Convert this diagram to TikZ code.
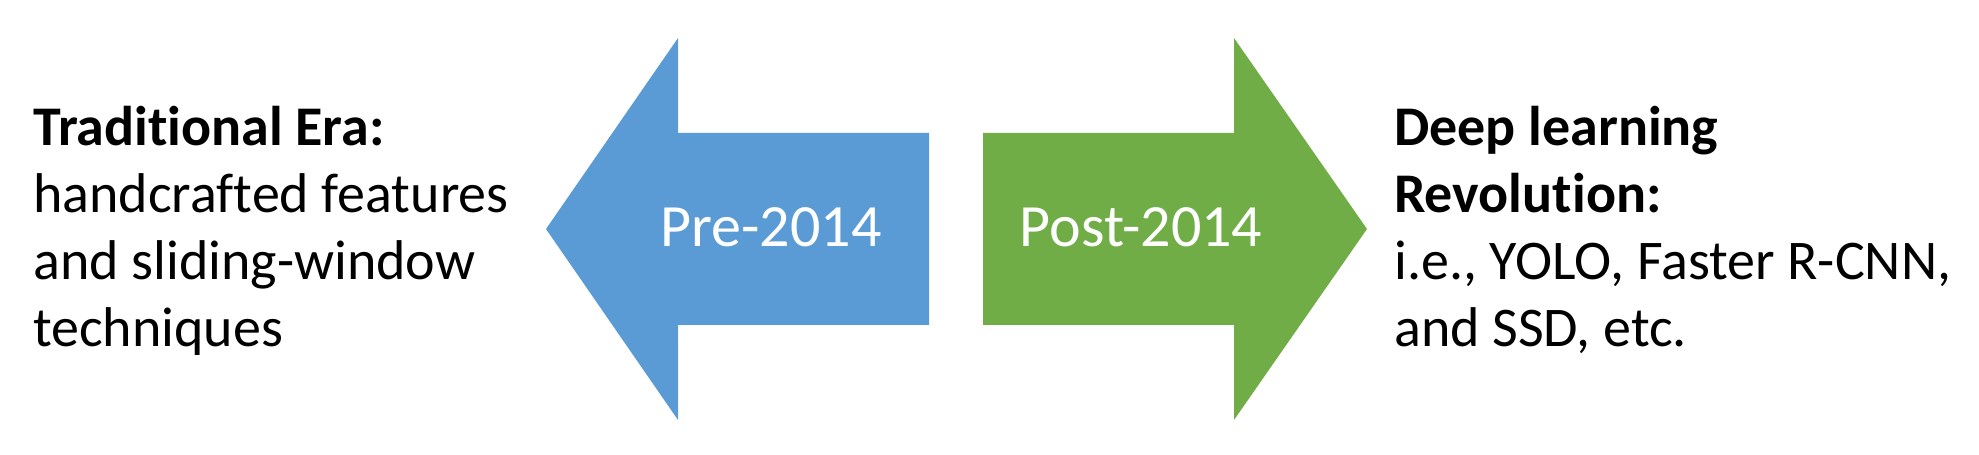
\documentclass[tikz,border=0pt]{standalone}
\usepackage{fontspec}
\setmainfont{Carlito}[Ligatures=NoCommon]
\definecolor{preblue}{HTML}{5B9BD5}
\definecolor{postgreen}{HTML}{70AD47}

\begin{document}
\begin{tikzpicture}[x=1pt,y=1pt,
    year label/.style={text=white,inner sep=0pt,anchor=base,font=\fontsize{60}{72}\selectfont},
    era text/.style={align=left,inner sep=0pt,anchor=base west,font=\fontsize{56}{67.3}\selectfont}]
    \useasboundingbox (0,0) rectangle (1979,455);

    % the two block arrows
    \fill[preblue] (546,226) -- (678,417) -- (678,322) -- (929,322)
        -- (929,130) -- (678,130) -- (678,35) -- cycle;
    \fill[postgreen] (1367,226) -- (1234,417) -- (1234,322) -- (983,322)
        -- (983,130) -- (1234,130) -- (1234,35) -- cycle;

    \node[year label] (pre) at (771,208) {Pre-2014};
    \node[year label] (post) at (1141,208) {Post-2014};

    % base anchor sits on the last line
    \node[era text] (trad) at (33,108) {\textbf{Traditional Era:}\\handcrafted features\\and sliding-window\\techniques};
    \node[era text] (deep) at (1394,108) {\textbf{Deep learning}\\\textbf{Revolution:}\\i.e., YOLO, Faster R-CNN,\\and SSD, etc.};
\end{tikzpicture}
\end{document}
